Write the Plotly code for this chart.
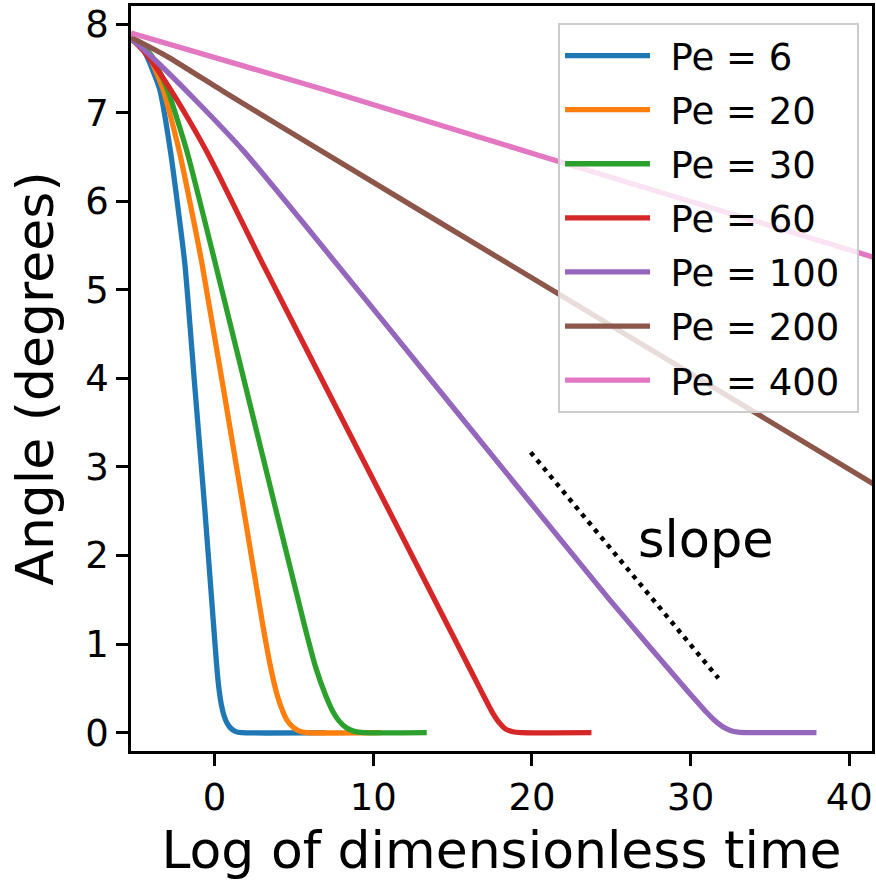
import plotly.graph_objects as go

# Angle relaxation curves vs. log of dimensionless time, one per Peclet number
labels = ["Pe = 6", "Pe = 20", "Pe = 30", "Pe = 60", "Pe = 100", "Pe = 200", "Pe = 400"]
colors = ["#1f77b4", "#ff7f0e", "#2ca02c", "#d62728", "#9467bd", "#8c564b", "#e377c2"]

x_pe6 = [-5.27, -4.75, -4.31, -3.47, -2.78, -1.88, -1.26, -0.63, -0.08, 0.12, 0.27, 0.42, 0.58, 0.78, 1.02, 1.30, 1.70, 7.0]
y_pe6 = [7.83, 7.77, 7.65, 7.27, 6.56, 5.30, 3.93, 2.55, 1.25, 0.78, 0.50, 0.32, 0.20, 0.11, 0.05, 0.015, 0.0, 0.0]

x_pe20 = [-5.27, -4.70, -4.16, -3.26, -2.22, -0.80, 1.84, 3.05, 3.55, 3.95, 4.30, 4.60, 4.95, 5.30, 5.80, 10.5]
y_pe20 = [7.83, 7.77, 7.65, 7.27, 6.56, 5.30, 2.51, 1.20, 0.72, 0.42, 0.24, 0.13, 0.06, 0.02, 0.0, 0.0]

x_pe30 = [-5.27, -4.65, -4.00, -2.99, -1.74, 0.0, 3.87, 5.75, 6.40, 7.00, 7.45, 7.85, 8.30, 8.80, 9.40, 13.37]
y_pe30 = [7.83, 7.76, 7.65, 7.27, 6.56, 5.33, 2.51, 1.15, 0.72, 0.42, 0.24, 0.13, 0.055, 0.015, 0.0, 0.0]

x_pe60 = [-5.27, -4.50, -3.50, -2.50, -1.50, -0.50, 0.50, 2.93, 9.70, 16.43, 17.00, 17.50, 17.95, 18.35, 18.80, 19.30, 23.75]
y_pe60 = [7.84, 7.70, 7.46, 7.18, 6.88, 6.56, 6.21, 5.33, 2.96, 0.60, 0.40, 0.23, 0.11, 0.04, 0.01, 0.0, 0.0]

x_pe100 = [-5.27, -4.20, -1.20, 1.86, 5.34, 15.00, 24.90, 29.90, 30.50, 31.00, 31.50, 32.00, 32.50, 33.00, 33.60, 37.93]
y_pe100 = [7.84, 7.67, 7.14, 6.56, 5.81, 3.68, 1.50, 0.45, 0.33, 0.23, 0.14, 0.07, 0.025, 0.005, 0.0, 0.0]

x_pe200 = [-5.27, -2.95, 0.63, 6.60, 21.24, 41.5]
y_pe200 = [7.85, 7.63, 7.23, 6.58, 5.00, 2.81]

x_pe400 = [-5.27, 7.09, 20.40, 41.5]
y_pe400 = [7.90, 7.25, 6.52, 5.37]

# Reference line indicating the common slope
slope_x = [19.92, 31.75]
slope_y = [3.165, 0.614]
slope_label = "slope"

series = [
    (x_pe6, y_pe6), (x_pe20, y_pe20), (x_pe30, y_pe30), (x_pe60, y_pe60),
    (x_pe100, y_pe100), (x_pe200, y_pe200), (x_pe400, y_pe400),
]

FONT = "DejaVu Sans"

fig = go.Figure()
for i, ((xs, ys), name, col) in enumerate(zip(series, labels, colors)):
    fig.add_trace(go.Scatter(
        x=xs, y=ys, mode="lines",
        # pad the entry so the text sits further from its line sample
        name="\u00a0\u200a" + name + "\u00a0",
        legendgroup=f"g{i}",
        line=dict(color=col, width=5.3, shape="spline", smoothing=0.5),
    ))

fig.add_trace(go.Scatter(
    x=slope_x, y=slope_y, mode="lines", showlegend=False,
    line=dict(color="black", width=4.5, dash="4.5px,5.5px"),
))

fig.add_annotation(
    x=30.95, y=2.18, xref="x", yref="y", text=slope_label, showarrow=False,
    xanchor="center", yanchor="middle",
    font=dict(family=FONT, size=51, color="black"),
)

axis_common = dict(
    showline=True, linecolor="black", linewidth=2.7, mirror=True,
    ticks="outside", ticklen=12, tickwidth=2.7, tickcolor="black",
    showgrid=False, zeroline=False,
    tickfont=dict(family=FONT, size=37, color="black"),
)

fig.update_layout(
    width=876, height=880,
    margin=dict(l=131, r=1, t=6, b=129),
    paper_bgcolor="white", plot_bgcolor="white",
    xaxis=dict(
        range=[-5.27, 41.43], tickvals=[0, 10, 20, 30, 40],
        title=dict(text="Log of dimensionless time", font=dict(family=FONT, size=52, color="black"), standoff=18),
        **axis_common,
    ),
    yaxis=dict(
        range=[-0.207, 8.204], tickvals=[0, 1, 2, 3, 4, 5, 6, 7, 8],
        title=dict(text="Angle (degrees)", font=dict(family=FONT, size=52, color="black"), standoff=16),
        **axis_common,
    ),
    legend=dict(
        x=0.9825, y=0.9772, xanchor="right", yanchor="top",
        bgcolor="rgba(255,255,255,0.8)", bordercolor="#cccccc", borderwidth=2,
        font=dict(family=FONT, size=37, color="black"),
        itemwidth=85, tracegroupgap=3,
    ),
    showlegend=True,
)

fig.write_html("out.html")
